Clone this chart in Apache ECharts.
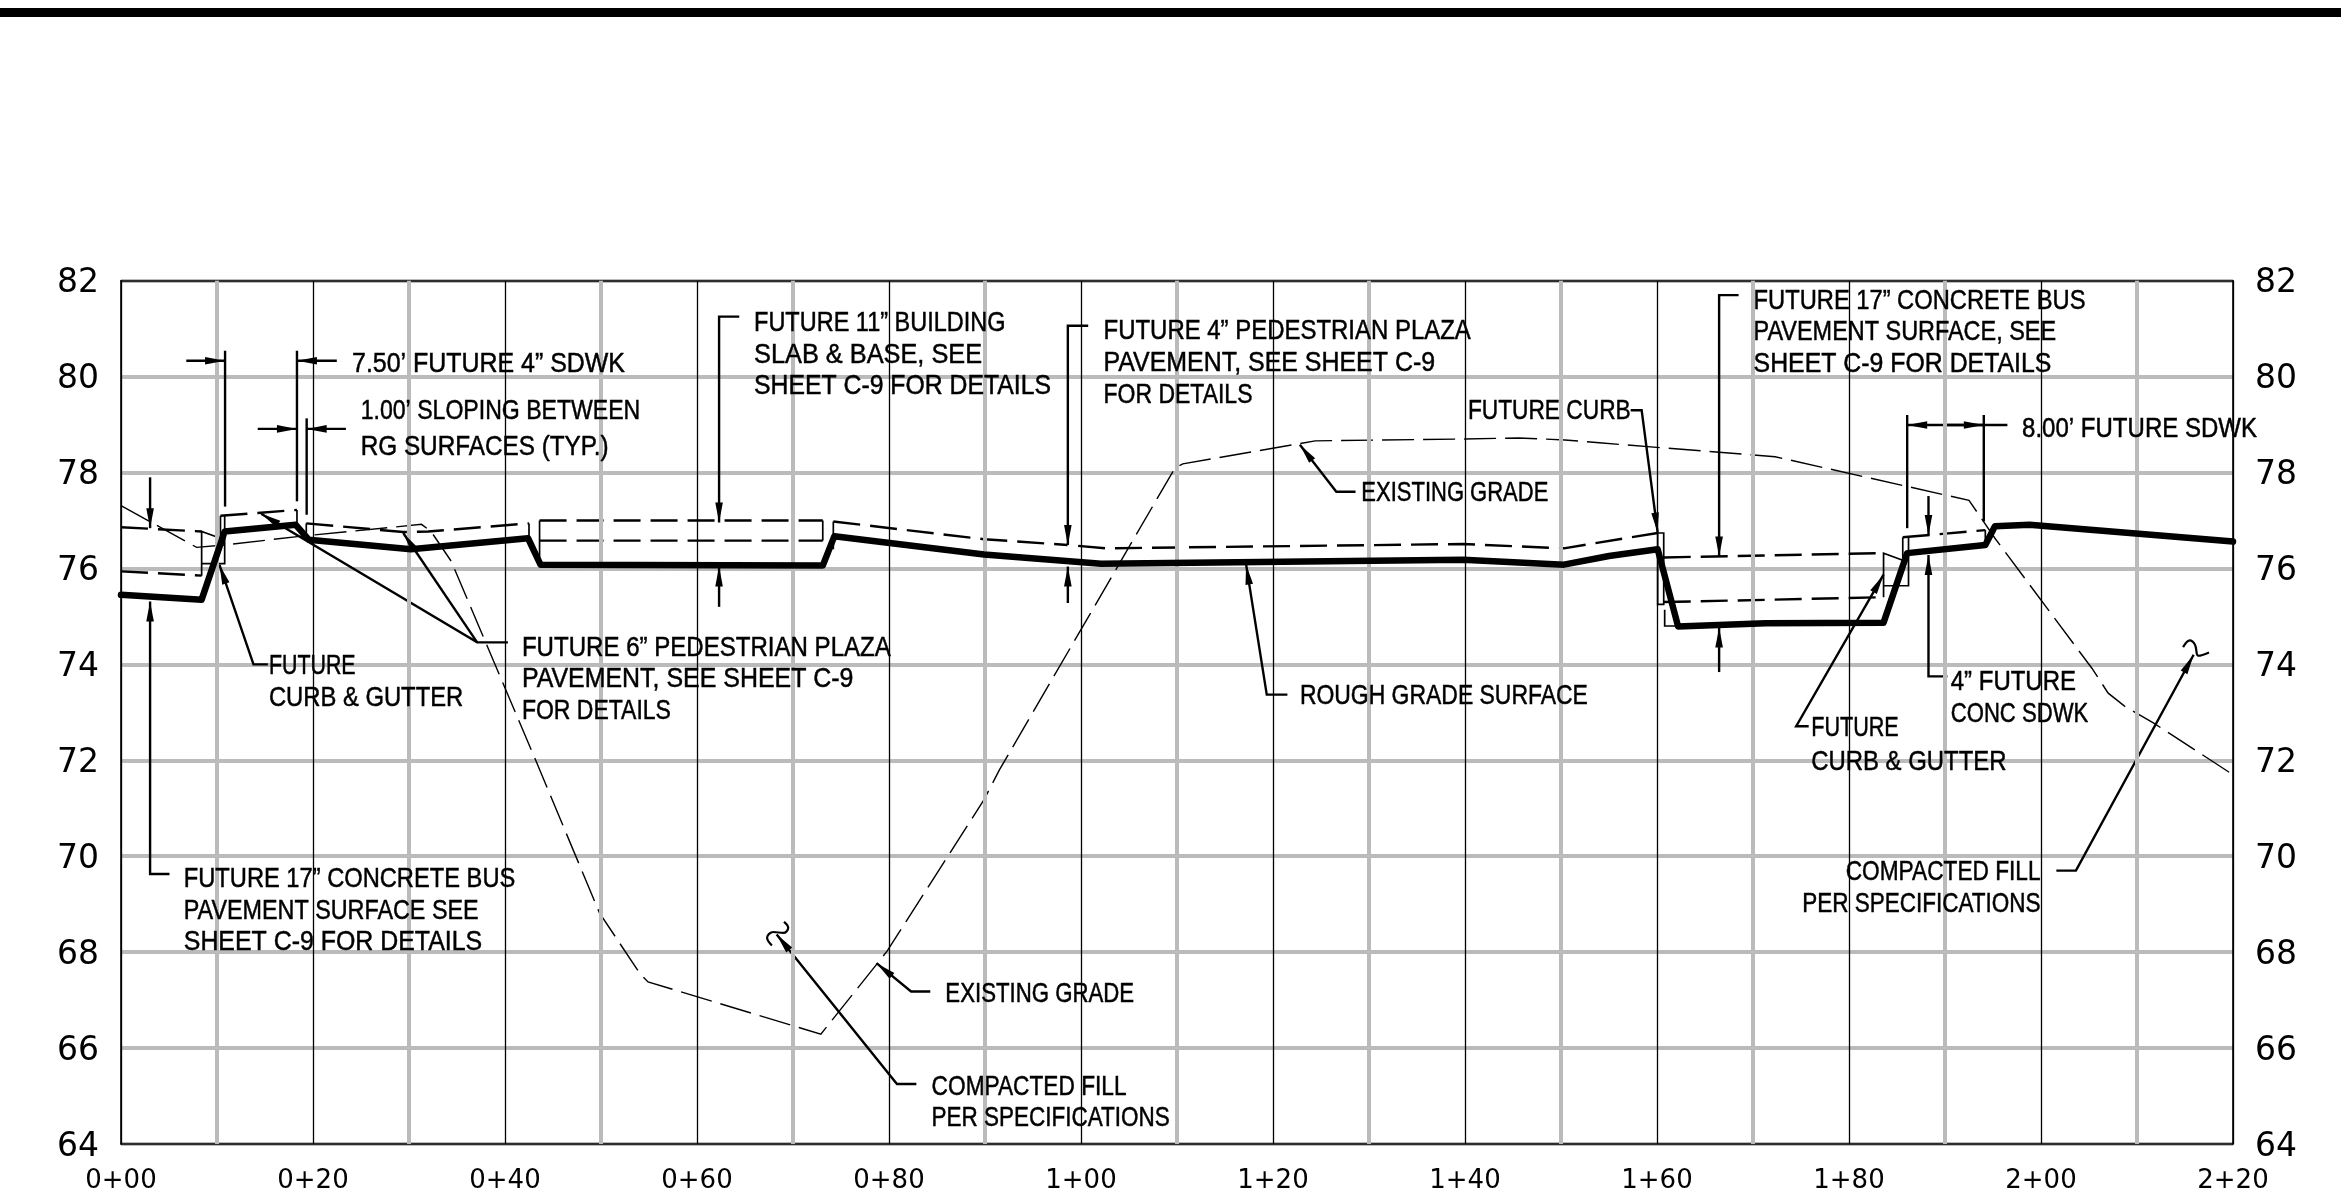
<!DOCTYPE html>
<html><head><meta charset="utf-8">
<style>html,body{margin:0;padding:0;background:#fff}#c{width:2341px;height:1194px}</style>
<script src="https://cdn.jsdelivr.net/npm/echarts@6/dist/echarts.min.js"></script>
</head><body><div id="c"></div>
<script>
// ---- axis ticks
const stationTicks = [0,20,40,60,80,100,120,140,160,180,200,220];
const stationLabels = ['0+00','0+20','0+40','0+60','0+80','1+00','1+20','1+40','1+60','1+80','2+00','2+20'];
const minorStations = [10,30,50,70,90,110,130,150,170,190,210];

// ---- rough grade surface
const roughStation = [0,8.4,10.8,18.2,19.55,30.2,42.4,43.7,73.1,74.3,89.9,102.1,139.8,150.3,155,160.07,162.2,171.3,183.6,186.06,194.2,195.2,198.8,220];
const roughElev    = [75.45,75.35,76.77,76.91,76.6,76.4,76.63,76.08,76.06,76.67,76.29,76.1,76.18,76.08,76.26,76.4,74.79,74.86,74.87,76.32,76.49,76.88,76.91,76.56];

// ---- existing grade
const existStation = [0,7.88,10.8,18.6,31.3,32.3,34.4,43.2,49.84,54.1,54.9,72.9,79.8,89.9,91.5,109.8,110.6,124.4,139.8,145.6,150.4,154,172.3,192.5,195.2,205.3,207,208.7,211.7,220];
const existElev    = [77.31,76.44,76.49,76.67,76.92,76.77,76.15,72.0,68.82,67.54,67.38,66.29,68.02,71.18,71.8,78.1,78.18,78.66,78.7,78.72,78.68,78.62,78.33,77.42,76.63,73.92,73.4,73.13,72.78,71.7];

// ---- future surfaces, dashed: [station, elevation] runs
const futureDashed = [
  [[0,76.86],[8.4,76.77]],
  [[0,75.94],[8.4,75.85]],
  [[10.36,77.1],[18.33,77.22]],
  [[19.3,76.94],[29.4,76.76],[32,76.77],[42.5,76.94]],
  [[43.6,77],[73.1,77]],
  [[43.6,76.58],[73.1,76.58]],
  [[74.2,76.98],[89.9,76.61],[98.6,76.49]],
  [[99.7,76.47],[102.6,76.42],[139.8,76.51],[150.3,76.42],[160.07,76.74]],
  [[160.7,76.23],[183.6,76.32]],
  [[160.7,75.3],[183.6,75.4]],
  [[185.6,76.65],[194.2,76.8]]
];
// ---- future surfaces, thin solid edges
const futureEdges = [
  [[8.4,75.85],[8.4,76.77],[10.36,76.63]],
  [[8.4,76.1],[10.8,76.1],[10.8,77.1]],
  [[10.36,76.63],[10.36,77.1]],
  [[18.33,77.22],[18.33,76.91]],
  [[19.3,76.94],[19.3,76.6]],
  [[42.5,76.94],[42.5,76.63]],
  [[43.6,77],[43.6,76.08]],
  [[73.1,77],[73.1,76.58]],
  [[74.2,76.98],[74.2,76.4]],
  [[160.07,76.74],[160.07,75.25],[160.7,75.25],[160.7,76.74],[160.07,76.74]],
  [[160.8,75.14],[160.8,74.8],[162.2,74.8]],
  [[183.6,75.4],[183.6,76.32],[185.6,76.17]],
  [[183.6,75.64],[186.2,75.64],[186.2,76.65]],
  [[185.6,76.65],[185.6,76.17]],
  [[194.2,76.8],[194.2,76.49]]
];

// ---- leaders ending in an arrowhead (last point is the tip)
const arrowLeaders = [
  [[3.03,77.9],[3.03,76.84]],
  [[5.05,69.63],[3.03,69.63],[3.03,75.31]],
  [[6.8,80.33],[10.84,80.33]],
  [[22.48,80.33],[18.33,80.33]],
  [[14.24,78.91],[18.33,78.91]],
  [[23.43,78.91],[19.34,78.91]],
  [[15.3,74.0],[13.8,74.0],[10.25,76.08]],
  [[40.3,74.46],[37.1,74.46],[14.6,77.14]],
  [[37.1,74.46],[29.4,76.74]],
  [[64.4,81.25],[62.3,81.25],[62.3,76.96]],
  [[62.3,75.2],[62.3,76.04]],
  [[100.75,81.06],[98.63,81.06],[98.63,76.49]],
  [[98.63,75.28],[98.63,76.04]],
  [[121.5,73.37],[119.35,73.37],[117.2,76.08]],
  [[128.6,77.6],[126.6,77.6],[122.8,78.58]],
  [[84.3,67.18],[82.3,67.18],[78.7,67.77]],
  [[82.85,65.25],[80.83,65.25],[68.3,68.37]],
  [[201.6,69.7],[203.64,69.7],[215.9,74.2]],
  [[157.26,79.3],[158.4,79.3],[160.07,76.75]],
  [[168.5,81.7],[166.47,81.7],[166.47,76.25]],
  [[166.47,73.84],[166.47,74.77]],
  [[175.8,72.71],[174.5,72.71],[183.6,75.87]],
  [[196.5,78.99],[186.06,78.99]],
  [[190,78.99],[194.04,78.99]],
  [[190.25,73.75],[188.28,73.75],[188.28,76.28]],
  [[188.28,77.51],[188.28,76.7]]
];
// ---- extension lines with no arrowhead
const extensionLines = [
  [[10.84,80.54],[10.84,77.29]],
  [[18.33,80.54],[18.33,77.4]],
  [[19.34,79.13],[19.34,77.12]],
  [[186.06,79.2],[186.06,76.84]],
  [[194.04,79.2],[194.04,76.98]]
];
// ---- break symbols at the fill callouts
const breakMarks = [
  [[69.06,68.63],[69.5,68.51],[69,68.4],[67.95,68.42],[67.3,68.3],[67.8,68.14]],
  [[214.8,74.36],[215.5,74.5],[216.04,74.41],[216.4,74.18],[217.5,74.25]]
];

// ---- callout text: [text, station at start, station at end, elevation]
const notes = [
  ['7.50’ FUTURE 4” SDWK',24.07,52.5,80.28],
  ['1.00’ SLOPING BETWEEN',24.97,54.09,79.31],
  ['RG SURFACES (TYP.)',24.97,50.8,78.56],
  ['FUTURE',15.41,24.44,73.99],
  ['CURB & GUTTER',15.41,35.65,73.32],
  ['FUTURE 6” PEDESTRIAN PLAZA',41.76,80.19,74.37],
  ['PAVEMENT, SEE SHEET C-9',41.76,76.3,73.72],
  ['FOR DETAILS',41.76,57.28,73.06],
  ['FUTURE 11” BUILDING',65.94,92.14,81.15],
  ['SLAB & BASE, SEE',65.94,89.7,80.47],
  ['SHEET C-9 FOR DETAILS',65.94,96.87,79.83],
  ['FUTURE 4” PEDESTRIAN PLAZA',102.35,140.6,80.97],
  ['PAVEMENT, SEE SHEET C-9',102.35,136.88,80.31],
  ['FOR DETAILS',102.35,117.86,79.65],
  ['EXISTING GRADE',129.2,148.68,77.6],
  ['ROUGH GRADE SURFACE',122.8,152.8,73.37],
  ['FUTURE CURB',140.3,157.26,79.3],
  ['FUTURE 17” CONCRETE BUS',6.54,41.07,69.55],
  ['PAVEMENT SURFACE SEE',6.54,37.25,68.89],
  ['SHEET C-9 FOR DETAILS',6.54,37.62,68.23],
  ['EXISTING GRADE',85.87,105.53,67.16],
  ['COMPACTED FILL',84.44,104.74,65.22],
  ['PER SPECIFICATIONS',84.44,109.25,64.57],
  ['FUTURE 17” CONCRETE BUS',170.06,204.63,81.61],
  ['PAVEMENT SURFACE, SEE',170.06,201.57,80.95],
  ['SHEET C-9 FOR DETAILS',170.06,201.08,80.29],
  ['8.00’ FUTURE SDWK',198.03,222.5,78.94],
  ['4” FUTURE',190.6,203.64,73.66],
  ['CONC SDWK',190.6,204.92,73.0],
  ['FUTURE',176.07,185.18,72.69],
  ['CURB & GUTTER',176.07,196.4,72.0],
  ['COMPACTED FILL',179.66,199.95,69.69],
  ['PER SPECIFICATIONS',175.13,199.95,69.03]
];

const zip = (a,b) => a.map((v,i)=>[v,b[i]]);
const noteFont = '28px "Liberation Sans Narrow","Liberation Sans",sans-serif';
const meas = document.createElement('canvas').getContext('2d');
meas.font = noteFont;

function lineSeries(name, data, style, z, extra) {
  return Object.assign({
    name, type:'line', data, xAxisIndex:0, yAxisIndex:0, showSymbol:false, symbol:'none',
    clip:false, silent:true, animation:false, z,
    lineStyle:Object.assign({color:'#000',cap:'butt',join:'miter'},style)
  }, extra||{});
}

const series = [];
// thick grey minor verticals
series.push(lineSeries('minor', [], {width:0}, 1, {
  markLine:{silent:true,symbol:'none',animation:false,label:{show:false},
    lineStyle:{color:'#bbbbbb',width:4,type:'solid'},
    data:minorStations.map(s=>({xAxis:s}))}
}));
series.push(lineSeries('Existing grade', zip(existStation,existElev), {width:1.4,type:[32,9]}, 3));
futureDashed.forEach((d,i)=>series.push(lineSeries('future'+i, d, {width:2.4,type:[27,10]}, 3)));
futureEdges.forEach((d,i)=>series.push(lineSeries('edge'+i, d, {width:1.7}, 3)));
extensionLines.forEach((d,i)=>series.push(lineSeries('ext'+i, d, {width:2.4}, 4)));
arrowLeaders.forEach((d,i)=>series.push(lineSeries('leader'+i, d, {width:2.4}, 4)));
breakMarks.forEach((d,i)=>series.push(lineSeries('break'+i, d, {width:2.2}, 4, {smooth:0.4})));
series.push(lineSeries('Rough grade surface', zip(roughStation,roughElev), {width:6.5,cap:'round',join:'round'}, 5));

// arrowheads
series.push({
  name:'arrows', type:'custom', coordinateSystem:'cartesian2d', silent:true, animation:false, z:6,
  data:arrowLeaders.map(p=>{const t=p[p.length-1],f=p[p.length-2];return [t[0],t[1],f[0],f[1]];}),
  encode:{x:0,y:1},
  renderItem(params,api){
    const t=api.coord([api.value(0),api.value(1)]), f=api.coord([api.value(2),api.value(3)]);
    const dx=f[0]-t[0],dy=f[1]-t[1],L=Math.hypot(dx,dy)||1,ux=dx/L,uy=dy/L;
    const len=20,w=3.8;
    return {type:'polygon',shape:{points:[t,
      [t[0]+ux*len-uy*w,t[1]+uy*len+ux*w],
      [t[0]+ux*len+uy*w,t[1]+uy*len-ux*w]]},style:{fill:'#000'}};
  }
});
// callout text
series.push({
  name:'notes', type:'custom', coordinateSystem:'cartesian2d', silent:true, animation:false, z:7,
  data:notes.map(n=>[n[1],n[3],n[2]]),
  encode:{x:0,y:1},
  renderItem(params,api){
    const n=notes[params.dataIndex];
    const a=api.coord([n[1],n[3]]), b=api.coord([n[2],n[3]]);
    const sx=(b[0]-a[0])/meas.measureText(n[0]).width;
    return {type:'text',x:a[0],y:a[1]+1.5,scaleX:sx,scaleY:1,
      style:{text:n[0],font:noteFont,fill:'#000',stroke:'#000',lineWidth:0.5,align:'left',verticalAlign:'middle',x:0,y:0}};
  }
});

const chart = echarts.init(document.getElementById('c'),null,{renderer:'canvas'});
chart.setOption({
  backgroundColor:'#fff',
  animation:false,
  grid:{left:121,right:108,top:280.7,bottom:49.3,containLabel:false},
  graphic:[{type:'rect',shape:{x:0,y:8,width:2341,height:9},style:{fill:'#000'},silent:true}],
  xAxis:[
    {type:'value',min:0,max:220,interval:20,position:'bottom',z:1,
     axisLine:{show:true,onZero:false,lineStyle:{color:'#000',width:1.6}},
     axisTick:{show:false},
     splitLine:{show:true,lineStyle:{color:'#000',width:1.3}},
     axisLabel:{margin:24,color:'#000',fontFamily:'"DejaVu Sans"',fontSize:26,
       formatter:v=>stationLabels[stationTicks.indexOf(v)]}},
    {type:'value',min:0,max:220,interval:20,position:'top',z:1,
     axisLine:{show:true,onZero:false,lineStyle:{color:'#000',width:1.6}},
     axisTick:{show:false},axisLabel:{show:false},splitLine:{show:false}}
  ],
  yAxis:[0,1].map(i=>({type:'value',min:64,max:82,interval:2,position:i?'right':'left',z:i?1:0,
     axisLine:{show:true,onZero:false,lineStyle:{color:'#000',width:1.6}},
     axisTick:{show:false},
     splitLine:{show:!i,lineStyle:{color:'#bbbbbb',width:4}},
     axisLabel:{margin:22,color:'#000',
       formatter:v=>'{t|'+v+'}',
       rich:{t:{fontFamily:'"DejaVu Sans"',fontSize:33,color:'#000',padding:[6,0,0,0]}}}})),
  series
});
</script></body></html>
